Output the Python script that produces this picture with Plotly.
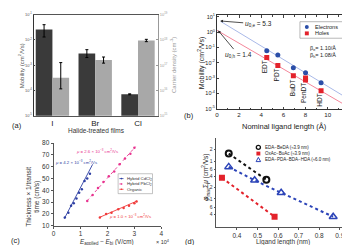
import numpy as np
import plotly.graph_objects as go

W, H = 350, 245
FONT = "Liberation Sans, Arial, sans-serif"


def px(x):
    return x / W


def py(y):
    return 1 - y / H


# ---------------- data ----------------
# (a) halide-treated films
halides = ["I", "Br", "Cl"]
mobility = [0.026, 0.0029, 7.0e-5]
mobility_hi = [0.040, 0.0041, 7.3e-5]
mobility_lo = [0.013, 0.0020, 6.7e-5]
density = [3.2e16, 1.6e17, 9.5e17]
density_hi = [1.26e17, 2.1e17, 1.05e18]
density_lo = [1.15e16, 1.2e17, 8.5e17]
a_left_ticks = [1e-5, 1e-4, 1e-3, 1e-2, 1e-1]
a_left_labels = ["10<sup>-5</sup>", "10<sup>-4</sup>", "10<sup>-3</sup>", "10<sup>-2</sup>", "10<sup>-1</sup>"]
a_right_ticks = [1e15, 1e16, 1e17, 1e18, 1e19]
a_right_labels = ["10<sup>15</sup>", "10<sup>16</sup>", "10<sup>17</sup>", "10<sup>18</sup>", "10<sup>19</sup>"]

# (b) mobility vs ligand length
ligands = ["EDT", "PDT", "BuDT", "PenDT", "HDT"]
lig_len = [4.5, 5.5, 6.9, 8.0, 9.4]
mu_e = [0.060, 0.032, 0.0047, 0.0022, 5.0e-4]
hole_len = [4.5, 5.5, 6.9, 8.0, 8.0, 9.4]
mu_h = [0.022, 0.0065, 0.0014, 1.0e-3, 7.5e-4, 1.5e-4]
e_fit_x = [0.35, 12.0]
e_fit_y = [4.9, 3.8e-5]
h_fit_x = [0.0, 12.0]
h_fit_y = [1.3, 1.15e-5]
b_ticks = [1e-5, 1e-4, 1e-3, 1e-2, 1e-1, 1e0, 1e1]
b_labels = ["10<sup>-5</sup>", "10<sup>-4</sup>", "10<sup>-3</sup>", "10<sup>-2</sup>",
            "10<sup>-1</sup>", "10<sup>0</sup>", "10<sup>1</sup>"]

# (c) thickness / transit time vs field
cd_x = [0.42, 0.55, 0.65, 0.75, 0.85, 0.95, 1.05, 1.15, 1.25, 1.35]
cd_y = [17, 21, 27, 29, 33, 38, 41, 48, 50, 54]
cd_fit_x = [0.40, 1.45]
cd_fit_y = [16, 62]
pb_x = [1.25, 1.45, 1.65, 1.85, 2.05, 2.25, 2.45, 2.65, 2.85, 3.0]
pb_y = [31, 36, 42, 47, 52, 56, 62, 67, 71, 76]
pb_fit_x = [1.24, 3.04]
pb_fit_y = [31, 77]
org_x = [1.72, 1.95, 2.15, 2.4, 2.6, 2.8, 3.0, 3.08]
org_y = [17, 20, 21, 24, 25, 27, 29, 30.5]
org_fit_x = [1.70, 3.10]
org_fit_y = [17, 31]

# (d) phi*sum(mu) vs ligand length
bk_x = [0.36, 0.543]
bk_y = [1.57, 0.32]
rd_x = [0.327, 0.583]
rd_y = [0.36, 0.034]
bl_x = [0.36, 0.486, 0.615, 0.868]
bl_y = [0.70, 0.31, 0.145, 0.034]
d_ticks = [0.04, 0.06, 0.1, 0.2, 0.4, 0.6, 1, 2]
d_labels = ["4", "6", "0.1", "2", "4", "6", "1", "2"]

# ---------------- colours ----------------
DARK = "#3a3a3a"
LIGHT = "#a8a8a8"
EBLUE = "#2b4ea8"
HRED = "#e3222b"
CBLUE = "#2e3fa3"
MAG = "#e8338f"
ORED = "#f03a3a"
DBLUE = "#2c44b8"

fig = go.Figure()

# (a) bars
fig.add_trace(go.Bar(
    x=halides, y=mobility, xaxis="x", yaxis="y", marker_color=DARK,
    marker_line_width=0, width=0.39, offset=-0.39,
    error_y=dict(type="data", symmetric=False,
                 array=[h - v for h, v in zip(mobility_hi, mobility)],
                 arrayminus=[v - l for v, l in zip(mobility, mobility_lo)],
                 color="black", thickness=1, width=1.5),
    showlegend=False))
fig.add_trace(go.Bar(
    x=halides, y=density, xaxis="x", yaxis="y2", marker_color=LIGHT,
    marker_line_width=0, width=0.39, offset=0.0,
    error_y=dict(type="data", symmetric=False,
                 array=[h - v for h, v in zip(density_hi, density)],
                 arrayminus=[v - l for v, l in zip(density, density_lo)],
                 color="black", thickness=1, width=1.5),
    showlegend=False))

# (b)
fig.add_trace(go.Scatter(x=e_fit_x, y=e_fit_y, xaxis="x2", yaxis="y3", mode="lines",
                         line=dict(color="#a9b9e8", width=1), showlegend=False))
fig.add_trace(go.Scatter(x=h_fit_x, y=h_fit_y, xaxis="x2", yaxis="y3", mode="lines",
                         line=dict(color="#f4869a", width=1), showlegend=False))
fig.add_trace(go.Scatter(x=lig_len, y=mu_e, xaxis="x2", yaxis="y3", mode="markers",
                         marker=dict(color=EBLUE, size=5, symbol="circle"), showlegend=False))
fig.add_trace(go.Scatter(x=hole_len, y=mu_h, xaxis="x2", yaxis="y3", mode="markers",
                         marker=dict(color=HRED, size=5, symbol="square"), showlegend=False))

# (c)
for fx, fy, c, d in [(cd_fit_x, cd_fit_y, CBLUE, "solid"), (pb_fit_x, pb_fit_y, MAG, "dot"),
                     (org_fit_x, org_fit_y, ORED, "solid")]:
    fig.add_trace(go.Scatter(x=fx, y=fy, xaxis="x3", yaxis="y4", mode="lines",
                             line=dict(color=c, width=0.9, dash=d), showlegend=False))
for sx, sy, c in [(cd_x, cd_y, CBLUE), (pb_x, pb_y, MAG), (org_x, org_y, ORED)]:
    fig.add_trace(go.Scatter(x=sx, y=sy, xaxis="x3", yaxis="y4", mode="markers",
                             marker=dict(color=c, size=2.5), showlegend=False))

# (d)
fig.add_trace(go.Scatter(x=bk_x, y=bk_y, xaxis="x4", yaxis="y5", mode="lines+markers",
                         line=dict(color="#111111", width=2, dash="dot"),
                         marker=dict(symbol="circle-open", size=6, color="#111111",
                                     line=dict(width=2)), showlegend=False))
fig.add_trace(go.Scatter(x=rd_x, y=rd_y, xaxis="x4", yaxis="y5", mode="lines+markers",
                         line=dict(color=HRED, width=2, dash="dot"),
                         marker=dict(symbol="square", size=6, color=HRED), showlegend=False))
fig.add_trace(go.Scatter(x=bl_x, y=bl_y, xaxis="x4", yaxis="y5", mode="lines+markers",
                         line=dict(color=DBLUE, width=2, dash="dot"),
                         marker=dict(symbol="triangle-up-open", size=7, color=DBLUE,
                                     line=dict(width=1.5)), showlegend=False))

# ---------------- axes ----------------
axbase = dict(showgrid=False, zeroline=False, showline=True, linewidth=0.8,
              tickfont=dict(family=FONT, size=6, color="#222"))

layout = dict(
    width=W, height=H, autosize=False, margin=dict(l=0, r=0, t=0, b=0),
    paper_bgcolor="white", plot_bgcolor="white", showlegend=False,
    font=dict(family=FONT, color="#222"),
    xaxis=dict(axbase, domain=[px(24), px(150.7)], anchor="y", range=[-0.44, 2.47],
               linecolor="#555", mirror=True, ticks="",
               tickfont=dict(family=FONT, size=8, color="#222")),
    yaxis=dict(axbase, domain=[py(106.7), py(2.7)], anchor="x", type="log", range=[-5, -1],
               tickvals=a_left_ticks, ticktext=a_left_labels, linecolor="#333",
               ticks="inside", ticklen=2, tickfont=dict(family=FONT, size=4, color="#555")),
    yaxis2=dict(axbase, overlaying="y", side="right", anchor="x", type="log", range=[15, 19],
                tickvals=a_right_ticks, ticktext=a_right_labels, linecolor="#999",
                ticks="inside", ticklen=2, tickcolor="#999",
                tickfont=dict(family=FONT, size=4, color="#999")),
    xaxis2=dict(axbase, domain=[px(210.5), px(345.8)], anchor="y3", range=[0, 12], dtick=2,
                linecolor="#333", mirror="ticks", ticks="inside", ticklen=2.5,
                minor=dict(ticks="inside", ticklen=1.5, dtick=1),
                tickfont=dict(family=FONT, size=6.2, color="#222")),
    yaxis3=dict(axbase, domain=[py(100), py(3.3)], anchor="x2", type="log", range=[-5.03, 1.1],
                tickvals=b_ticks, ticktext=b_labels, linecolor="#333", mirror="ticks",
                ticks="inside", ticklen=2.5,
                tickfont=dict(family=FONT, size=5.5, color="#222")),
    xaxis3=dict(axbase, domain=[px(44.3), px(154)], anchor="y4", range=[0, 4], dtick=1,
                linecolor="#555", ticks="outside", ticklen=2, tickcolor="#555",
                tickfont=dict(family=FONT, size=6.5, color="#333")),
    yaxis4=dict(axbase, domain=[py(220), py(135)], anchor="x3", range=[10, 80], dtick=10,
                linecolor="#555", ticks="outside", ticklen=2, tickcolor="#555",
                tickfont=dict(family=FONT, size=6.5, color="#333")),
    xaxis4=dict(axbase, domain=[px(210), px(347)], anchor="y5", range=[0.3, 0.955],
                tickvals=[0.4, 0.5, 0.6, 0.7, 0.8, 0.9], linecolor="#555", ticks="outside",
                ticklen=2, tickcolor="#555", tickfont=dict(family=FONT, size=6.5, color="#333")),
    yaxis5=dict(axbase, domain=[py(221.7), py(130)], anchor="x4", type="log", range=[-1.75, 0.6],
                tickvals=d_ticks, ticktext=d_labels, linecolor="#555", ticks="outside",
                ticklen=2, tickcolor="#555", tickfont=dict(family=FONT, size=5, color="#333")),
)
fig.update_layout(**layout)


def ann(text, x, y, size, color="#222", angle=0, xanchor="center", yanchor="middle"):
    return dict(text=text, x=px(x), y=py(y), xref="paper", yref="paper", showarrow=False,
                font=dict(size=size, color=color, family=FONT), textangle=angle,
                xanchor=xanchor, yanchor=yanchor)


anns = [
    # panel labels
    ann("(a)", 7, 117, 7.5), ann("(b)", 182, 107, 7.5),
    ann("(c)", 6, 235, 7.5), ann("(d)", 183, 236, 7.5),
    # (a)
    ann("Halide-treated films", 88, 121.5, 6.5, "#333"),
    ann("Mobility (cm<sup>2</sup>/Vs)", 12, 55, 6, "#555", -90),
    ann("Carrier density (cm<sup>-3</sup>)", 166.5, 55, 6, "#999", -90),
    # (b)
    ann("Mobility (cm<sup>2</sup>/Vs)", 195, 52, 7, "#222", -90),
    ann("Nominal ligand length (Å)", 279, 117.5, 7.5),
    ann("β<sub>e</sub>= 1.10/Å", 303, 38, 5.5, xanchor="left"),
    ann("β<sub>h</sub>= 1.08/Å", 303, 45, 5.5, xanchor="left"),
    ann("Electrons", 308, 15.5, 5.5, xanchor="left"),
    ann("Holes", 308, 22, 5.5, xanchor="left"),
    # (c)
    ann("Thickness × 1/transit<br>time (cm/s)", 22.5, 190, 6.5, "#333", -90),
    ann("<i>E</i><sub>applied</sub> − <i>E</i><sub>bi</sub> (V/cm)", 99, 236.5, 6.3, "#333"),
    ann("× 10<sup>4</sup>", 156, 237, 5.5, "#333"),
    ann("<i>μ</i> = 2.6 × 10<sup>−3</sup> cm<sup>2</sup>/Vs", 88.3, 143.3, 4.3, MAG),
    ann("<i>μ</i> = 4.2 × 10<sup>−3</sup> cm<sup>2</sup>/Vs", 66.7, 154, 4.3, CBLUE),
    ann("<i>μ</i> = 1.0 × 10<sup>−3</sup> cm<sup>2</sup>/Vs", 121.7, 210, 4.3, ORED),
    ann("Hybrid CdCl<sub>2</sub>", 116.5, 171.5, 4.3, "#333", xanchor="left"),
    ann("Hybrid PbCl<sub>2</sub>", 116.5, 177, 4.3, "#333", xanchor="left"),
    ann("Organic", 116.5, 182.5, 4.3, "#333", xanchor="left"),
    # (d)
    ann("<i>φ</i><sub>max</sub>Σ<i>μ</i> (cm<sup>2</sup>/Vs)", 199, 170, 6.5, "#222", -90),
    ann("Ligand length (nm)", 278, 237, 6.5, "#333"),
    ann("EDA−BeDA (≈3.9 nm)", 257.7, 139.3, 4.5, "#222", xanchor="left"),
    ann("OxAc−BuAc (≈3.9 nm)", 257.7, 145.7, 4.5, "#222", xanchor="left"),
    ann("EDA−PDA−BDA−HDA (≈6.0 nm)", 257.7, 151.9, 4.5, "#222", xanchor="left"),
]

# rotated ligand labels in (b), placed under the hole points
for name, L in zip(ligands, lig_len):
    hv = min(h for hl, h in zip(hole_len, mu_h) if hl == L)
    anns.append(dict(text=name, x=L, y=np.log10(hv), xref="x2", yref="y3", showarrow=False,
                     textangle=-90, xanchor="center", yanchor="top", yshift=-2, xshift=-1.5,
                     borderpad=0, font=dict(size=6.5, color="#222", family=FONT)))

# mu0 arrows in (b)
anns.append(dict(text="<i>u</i><sub>0,e</sub> = 5.3", x=0.3, y=np.log10(5.3), xref="x2", yref="y3",
                 showarrow=True, arrowhead=2, arrowsize=0.7, arrowwidth=0.8, arrowcolor="#222",
                 ax=38, ay=3, font=dict(size=6.5, color="#222", family=FONT)))
anns.append(dict(text="<i>u</i><sub>0,h</sub> = 1.4", x=0.12, y=np.log10(1.25), xref="x2", yref="y3",
                 showarrow=True, arrowhead=2, arrowsize=0.7, arrowwidth=0.8, arrowcolor="#222",
                 ax=20, ay=24, font=dict(size=6.5, color="#222", family=FONT)))
fig.update_layout(annotations=anns)

# manual legends (shapes in paper coordinates)
shapes = []
# (b) legend box + symbols
shapes.append(dict(type="rect", xref="paper", yref="paper", x0=px(295), x1=px(342), y0=py(27), y1=py(10),
                   line=dict(color="#888", width=0.6), fillcolor="white", layer="below"))
shapes.append(dict(type="circle", xref="paper", yref="paper", x0=px(300), x1=px(304), y0=py(17.5), y1=py(13.5),
                   line=dict(width=0), fillcolor=EBLUE))
shapes.append(dict(type="rect", xref="paper", yref="paper", x0=px(300), x1=px(304), y0=py(24), y1=py(20),
                   line=dict(width=0), fillcolor=HRED))
# (c) legend box + symbols
shapes.append(dict(type="rect", xref="paper", yref="paper", x0=px(110), x1=px(145), y0=py(187), y1=py(166.5),
                   line=dict(color="#888", width=0.5), fillcolor="white", layer="below"))
for yy, c, d in [(171.5, CBLUE, "solid"), (177, MAG, "dot"), (182.5, ORED, "solid")]:
    shapes.append(dict(type="line", xref="paper", yref="paper", x0=px(111.3), x1=px(115.5), y0=py(yy), y1=py(yy),
                       line=dict(color=c, width=0.8, dash=d)))
    shapes.append(dict(type="circle", xref="paper", yref="paper", x0=px(112.6), x1=px(114.2),
                       y0=py(yy + 0.8), y1=py(yy - 0.8), line=dict(width=0), fillcolor=c))
# (d) legend symbols
shapes.append(dict(type="circle", xref="paper", yref="paper", x0=px(250.6), x1=px(254.8), y0=py(141.4), y1=py(137.2),
                   line=dict(color="#111", width=1.3), fillcolor="rgba(0,0,0,0)"))
shapes.append(dict(type="rect", xref="paper", yref="paper", x0=px(250.7), x1=px(254.7), y0=py(147.7), y1=py(143.7),
                   line=dict(width=0), fillcolor=HRED))
tri = "M {} {} L {} {} L {} {} Z".format(px(250.4), py(154), px(255), py(154), px(252.7), py(149.6))
shapes.append(dict(type="path", xref="paper", yref="paper", path=tri,
                   line=dict(color=DBLUE, width=1), fillcolor="rgba(0,0,0,0)"))
fig.update_layout(shapes=shapes)

fig.write_html("out.html")
